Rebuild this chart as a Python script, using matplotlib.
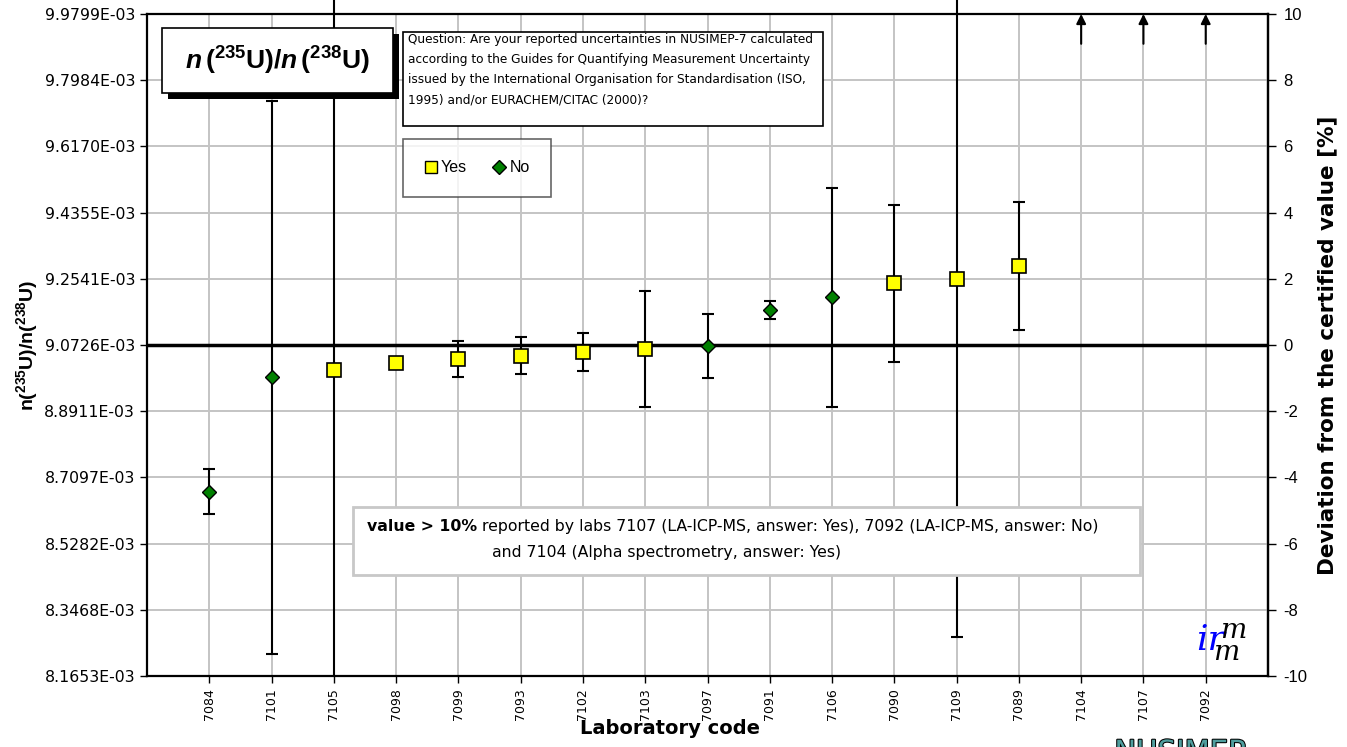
import matplotlib
matplotlib.use('Agg')
import matplotlib.pyplot as plt
import matplotlib.patches as mpatches
import matplotlib.patheffects as pe
from matplotlib.lines import Line2D
from matplotlib.text import Annotation
import numpy as np

# certified value and lab results (deviation in %, expanded uncertainty in %)
cert = 9.0726e-3
labs = ['7084', '7101', '7105', '7098', '7099', '7093', '7102', '7103', '7097',
        '7091', '7106', '7090', '7109', '7089', '7104', '7107', '7092']
dev = [-4.44, -0.98, -0.76, -0.54, -0.43, -0.32, -0.22, -0.11, -0.02,
       1.06, 1.44, 1.87, 1.98, 2.39, np.nan, np.nan, np.nan]
unc = [0.68, 8.35, 20.0, 0.0, 0.55, 0.55, 0.58, 1.75, 0.97,
       0.27, 3.30, 2.37, 10.8, 1.93, np.nan, np.nan, np.nan]
answer = ['No', 'No', 'Yes', 'Yes', 'Yes', 'Yes', 'Yes', 'Yes', 'No',
          'No', 'No', 'Yes', 'Yes', 'Yes', 'Yes', 'Yes', 'No']
off_scale = ['7104', '7107', '7092']

W, H = 1347, 747
fig = plt.figure(figsize=(W / 100, H / 100), dpi=100)
plt.rcParams['font.family'] = ['Liberation Sans', 'DejaVu Sans']
plt.rcParams['axes.unicode_minus'] = False
plt.rcParams['mathtext.fontset'] = 'custom'
plt.rcParams['mathtext.rm'] = 'Liberation Sans:bold'
plt.rcParams['mathtext.bf'] = 'Liberation Sans:bold'
plt.rcParams['mathtext.it'] = 'Liberation Sans:bold:italic'

def fx(px):
    return px / W

def fy(py):
    return 1 - py / H

L, R, T, B = 147, 1268, 14, 676
ax = fig.add_axes([fx(L), fy(B), fx(R) - fx(L), fy(T) - fy(B)])

x = np.arange(len(labs))
dev = np.array(dev)
unc = np.array(unc)
ratio = cert * (1 + dev / 100.)
err = cert * unc / 100.

ax.set_xlim(-1, 17)
ax.set_ylim(cert * 0.9, cert * 1.1)
yt = cert * (1 + np.arange(-10, 11, 2) / 100.)
ax.set_yticks(yt)
ax.set_yticklabels(['{:.4E}'.format(v) for v in yt], family='DejaVu Sans', fontsize=11.3)
ax.set_xticks(x)
ax.set_xticklabels(labs, rotation=90, family='DejaVu Sans', fontsize=9)
ax.grid(True, color='#c4c4c4', lw=1.4)
ax.set_axisbelow(True)
for s in ax.spines.values():
    s.set_linewidth(1.6)
ax.tick_params(length=5, width=1, direction='out')

ax.axhline(cert, color='black', lw=2.5, zorder=2)

# error bars may run above the frame (up to the figure edge)
clip = mpatches.Rectangle((fx(L), fy(B)), fx(R) - fx(L), 1 - fy(B),
                          transform=fig.transFigure, visible=False)
fig.add_artist(clip)
ok = ~np.isnan(dev)
eb = ax.errorbar(x[ok], ratio[ok], yerr=err[ok], fmt='none', ecolor='black',
                 elinewidth=1.5, capsize=4, capthick=1.5, zorder=3)
for a in list(eb.lines[1]) + list(eb.lines[2]):
    a.set_clip_path(clip)

yes = np.array([a == 'Yes' for a in answer]) & ok
no = np.array([a == 'No' for a in answer]) & ok
ax.plot(x[yes], ratio[yes], 's', ms=9.5, mfc='#ffff00', mec='black', mew=1.2, zorder=4)
ax.plot(x[no], ratio[no], 'D', ms=7.5, mfc='#008000', mec='black', mew=1.0, zorder=4)

for lab in off_scale:
    i = labs.index(lab)
    ax.annotate('', xy=(i, cert * 1.1), xytext=(i, cert * 1.091),
                arrowprops=dict(arrowstyle='-|>', color='black', lw=1.5,
                                mutation_scale=14, shrinkA=0, shrinkB=0),
                annotation_clip=False, zorder=5)

sec = ax.secondary_yaxis('right', functions=(lambda r: (r / cert - 1) * 100,
                                             lambda p: cert * (1 + p / 100.)))
sec.set_yticks(np.arange(-10, 11, 2))
sec.tick_params(labelsize=12, length=6, width=1, pad=5)
sec.spines['right'].set_linewidth(1.6)
sec.set_ylabel('Deviation from the certified value [%]', family='DejaVu Sans',
               fontweight='bold', fontsize=15.5, labelpad=7)

ax.set_xlabel('Laboratory code', family='DejaVu Sans', fontweight='bold',
              fontsize=14, labelpad=3)
ax.xaxis.set_label_coords((670 - L) / (R - L), -0.065)
ax.set_ylabel(r'$\mathrm{n(^{235}U)/n(^{238}U)}$', fontsize=14, labelpad=3)

# title box with shadow
fig.add_artist(mpatches.Rectangle((fx(168), fy(99)), fx(231), fy(28) - fy(93),
                                  transform=fig.transFigure, fc='black', ec='none'))
fig.add_artist(mpatches.Rectangle((fx(162), fy(93)), fx(231), fy(28) - fy(93),
                                  transform=fig.transFigure, fc='white', ec='black', lw=1.2))
fig.text(fx(277), fy(61), r'$\mathit{n}\,(^{235}\mathrm{U})/\mathit{n}\,(^{238}\mathrm{U})$',
         fontsize=19, ha='center', va='center')

# question box
fig.add_artist(mpatches.Rectangle((fx(403), fy(126)), fx(420), fy(32) - fy(126),
                                  transform=fig.transFigure, fc='white', ec='black', lw=1.2))
question = ('Question: Are your reported uncertainties in NUSIMEP-7 calculated\n'
            'according to the Guides for Quantifying Measurement Uncertainty\n'
            'issued by the International Organisation for Standardisation (ISO,\n'
            '1995) and/or EURACHEM/CITAC (2000)?')
fig.text(fx(408), fy(33), question, family='DejaVu Sans', fontsize=8.7,
         va='top', ha='left', linespacing=1.72)

# legend
handles = [Line2D([], [], ls='none', marker='s', ms=8.5, mfc='#ffff00', mec='black', mew=1),
           Line2D([], [], ls='none', marker='D', ms=7, mfc='#008000', mec='black', mew=1)]
leg = ax.legend(handles, ['Yes', 'No'], ncol=2, loc='center',
                bbox_to_anchor=((477 - L) / (R - L), (B - 168) / (B - T)),
                fontsize=11.5, frameon=True, fancybox=False, borderpad=1.35,
                handlelength=0.8, handletextpad=0.25, columnspacing=1.6)
leg.get_frame().set_edgecolor('#404040')
leg.get_frame().set_linewidth(1.2)

# note box
fig.add_artist(mpatches.Rectangle((fx(353), fy(575)), fx(787), fy(507) - fy(575),
                                  transform=fig.transFigure, fc='white', ec='#c8c8c8', lw=2,
                                  zorder=3))
t1 = fig.text(fx(367), fy(531), 'value > 10%', family='DejaVu Sans', fontweight='bold',
              fontsize=11.3, va='baseline', ha='left', zorder=4)
fig.add_artist(Annotation(
    ' reported by labs 7107 (LA-ICP-MS, answer: Yes), 7092 (LA-ICP-MS, answer: No)',
    xy=(1, 0), xycoords=t1, va='bottom', ha='left', family='DejaVu Sans',
    fontsize=11.3, zorder=4))
fig.text(fx(492), fy(557), 'and 7104 (Alpha spectrometry, answer: Yes)',
         family='DejaVu Sans', fontsize=11.3, va='baseline', ha='left', zorder=4)

# irmm logo
fig.text(fx(1196), fy(640), 'ir', family='DejaVu Serif', style='italic',
         color='#0000ff', fontsize=26, ha='left', va='center')
fig.text(fx(1220), fy(630), 'm', family='DejaVu Serif', style='italic',
         color='black', fontsize=20, ha='left', va='center')
fig.text(fx(1213), fy(652), 'm', family='DejaVu Serif', style='italic',
         color='black', fontsize=20, ha='left', va='center')

# NUSIMEP logo (cut at the figure edge)
fig.text(fx(1180), fy(739), 'NUSIMEP', family='DejaVu Sans', fontsize=21,
         color='#4f9e9e', ha='center', va='top',
         path_effects=[pe.withStroke(linewidth=1.5, foreground='black')])

fig.savefig('out.png', dpi=100)
